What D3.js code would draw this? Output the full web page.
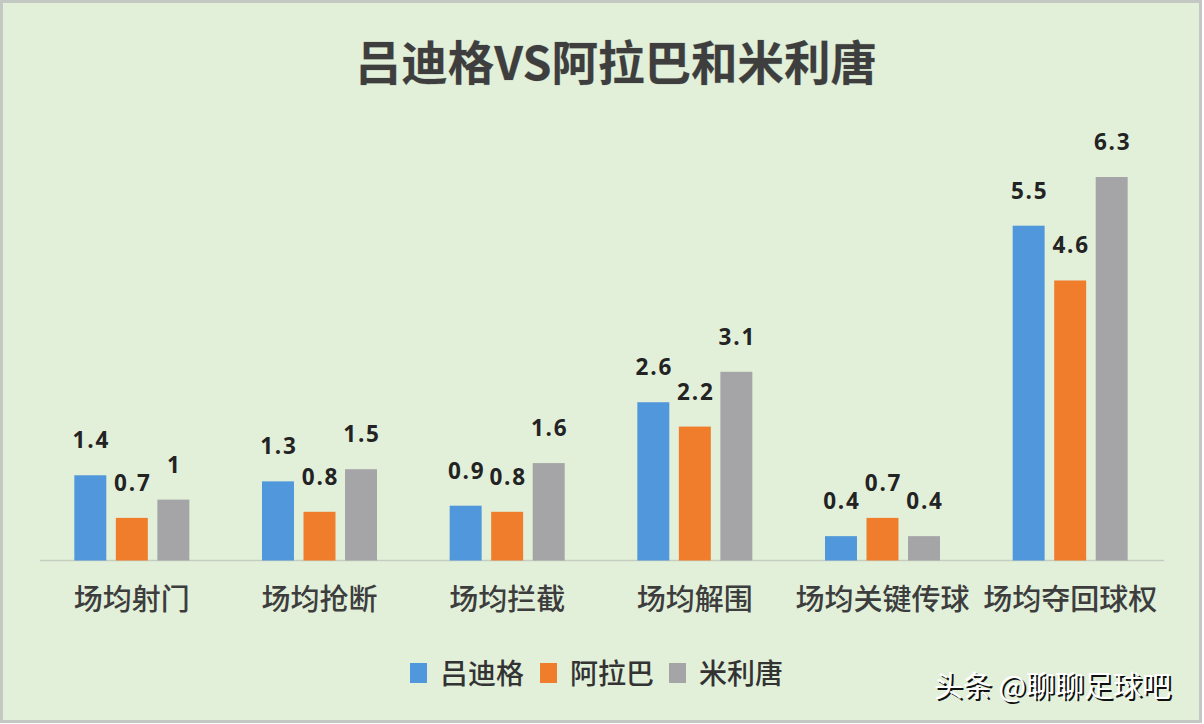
<!DOCTYPE html>
<html><head><meta charset="utf-8">
<script src="https://cdn.jsdelivr.net/npm/d3@7"></script>
<style>
html,body{margin:0;padding:0;background:#fff;}
svg{display:block;}
</style></head>
<body>
<svg id="chart" width="1204" height="724"></svg>
<script>
const title = "吕迪格VS阿拉巴和米利唐";
const categories = ["场均射门","场均抢断","场均拦截","场均解围","场均关键传球","场均夺回球权"];
const seriesNames = ["吕迪格","阿拉巴","米利唐"];
const seriesColors = ["#5197dc","#ef7d2b","#a5a5a7"];
const ruediger = [1.4,1.3,0.9,2.6,0.4,5.5];
const alaba = [0.7,0.8,0.8,2.2,0.7,4.6];
const militao = [1,1.5,1.6,3.1,0.4,6.3];
const watermark = "头条 @聊聊足球吧";

const seriesValues = [ruediger, alaba, militao];
const svg = d3.select("#chart");
const W = 1204, H = 724;
const cjk = "'Noto Sans CJK SC','Noto Sans',sans-serif";

svg.append("rect").attr("x",1.5).attr("y",1.5).attr("width",W-5).attr("height",H-4)
  .attr("fill","#e2f0da").attr("stroke","#c4c8c2").attr("stroke-width",3);

// title
svg.append("text").attr("x",616).attr("y",80).attr("text-anchor","middle")
  .attr("font-family",cjk).attr("font-weight",700).attr("font-size",46.5)
  .attr("fill","#3e3e3e").style("paint-order","stroke").attr("stroke","rgba(0,0,0,0.15)").attr("stroke-width",1)
  .text(title);

const baseY = 560.5;
const y = d3.scaleLinear().domain([0, 6.3]).range([baseY, 177]);
const x0 = d3.scaleBand().domain(categories).range([38, 1164]).padding(0);
const x1 = d3.scaleBand().domain(seriesNames).range([0, 115]).paddingInner(0.23).paddingOuter(0);

// axis line
svg.append("line").attr("x1",40).attr("x2",1164).attr("y1",baseY).attr("y2",baseY)
  .attr("stroke","#c5cdc0").attr("stroke-width",1.5);

const data = [];
categories.forEach((c,i)=>{
  seriesNames.forEach((s,j)=>{ data.push({cat:c, ser:s, j:j, v:seriesValues[j][i]}); });
});

const gx = c => x0(c) + x0.bandwidth()/2 - 57.5;

svg.append("g").selectAll("rect").data(data).join("rect")
  .attr("x", d=>gx(d.cat)+x1(d.ser))
  .attr("y", d=>y(d.v))
  .attr("width", x1.bandwidth())
  .attr("height", d=>baseY - y(d.v))
  .attr("fill", d=>seriesColors[d.j]);

svg.append("g").selectAll("text").data(data).join("text")
  .attr("x", d=>gx(d.cat)+x1(d.ser)+x1.bandwidth()/2+1)
  .attr("y", d=>y(d.v)-27)
  .attr("text-anchor","middle")
  .attr("font-family","'Open Sans',sans-serif").attr("font-weight",700).attr("font-size",22.5)
  .attr("letter-spacing","1.8px")
  .attr("fill","#232323")
  .text(d=>d.v);

// category labels
svg.append("g").selectAll("text").data(categories).join("text")
  .attr("x", c=>x0(c)+x0.bandwidth()/2)
  .attr("y", 610)
  .attr("text-anchor","middle")
  .attr("font-family",cjk).attr("font-size",29).attr("font-weight",500)
  .attr("fill","#3d3d3d")
  .text(c=>c);

// legend
const legendX = [410, 540, 669];
const lg = svg.append("g");
seriesNames.forEach((s,j)=>{
  lg.append("rect").attr("x",legendX[j]).attr("y",663).attr("width",17).attr("height",20).attr("fill",seriesColors[j]);
  lg.append("text").attr("x",legendX[j]+30).attr("y",684)
    .attr("font-family",cjk).attr("font-size",28).attr("font-weight",500)
    .attr("fill","#333").text(s);
});

// watermark
svg.append("text").attr("x",934).attr("y",697).attr("font-family",cjk).attr("font-size",29)
  .attr("fill","#111").attr("transform","translate(2,2)").text(watermark);
svg.append("text").attr("x",934).attr("y",697).attr("font-family",cjk).attr("font-size",29)
  .attr("fill","#fff").text(watermark);
</script>
</body></html>
